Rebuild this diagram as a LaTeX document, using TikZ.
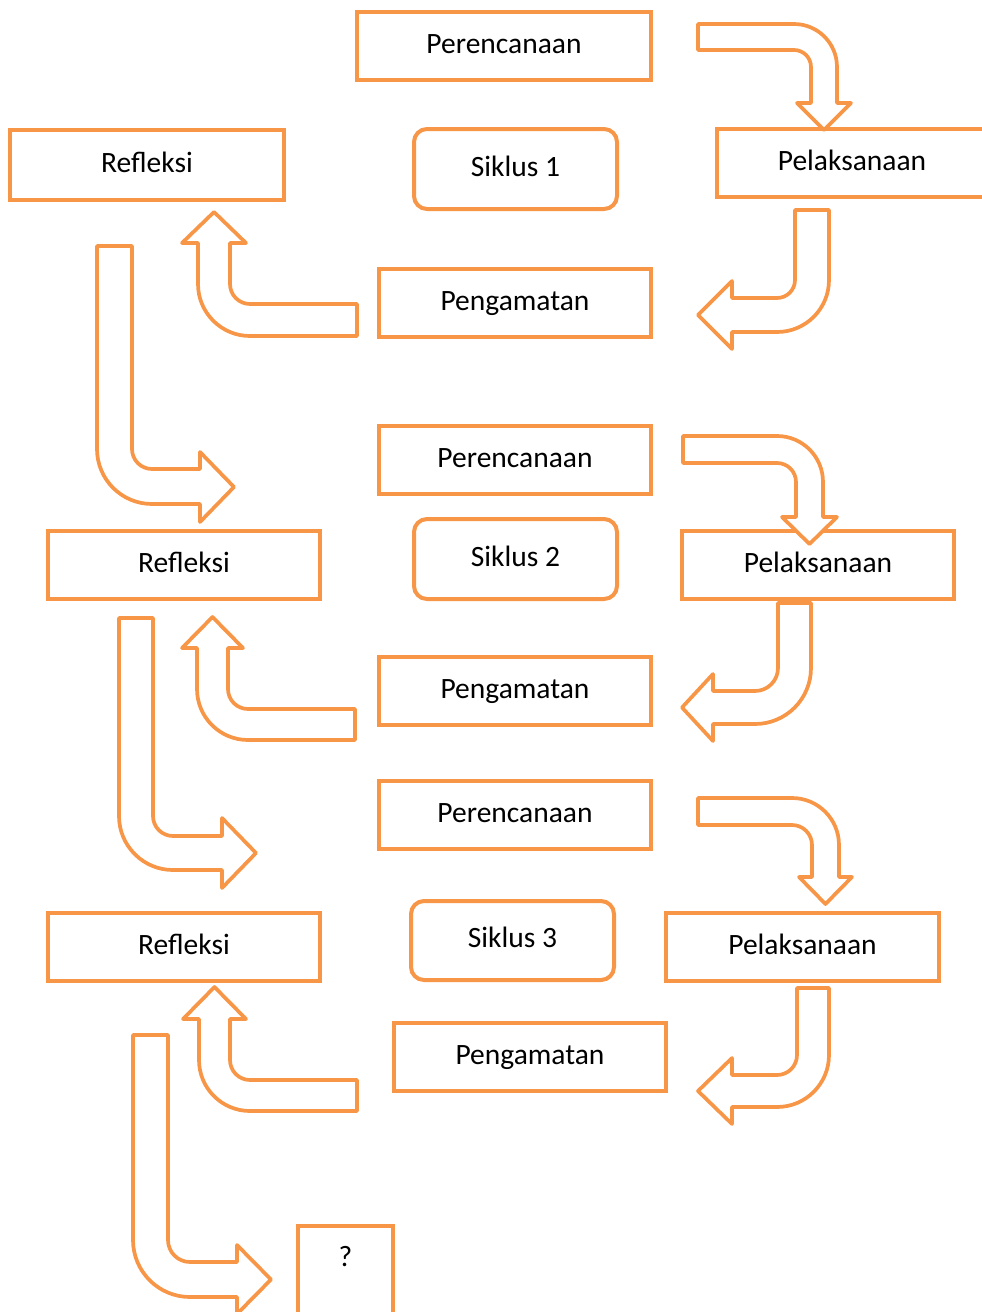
\documentclass[tikz,border=0pt]{standalone}
\usepackage{fontspec}
\setmainfont{Carlito}
\definecolor{oranye}{HTML}{F79646}
\tikzset{
  kotak/.style={draw=oranye, line width=4pt, inner sep=0pt, minimum width=272, minimum height=68,
    text height=20pt, text depth=6pt, font=\fontsize{29.5}{35}\selectfont},
  siklus/.style={kotak, rounded corners=13pt, minimum width=203, minimum height=80},
  panah/.style={draw=oranye, fill=white, line width=3.7pt, line join=round}
}
\begin{document}
\begin{tikzpicture}[x=1pt,y=-1pt]
  \useasboundingbox (0,0) rectangle (982,1312);
  \clip (0,0) rectangle (982,1312);

  \node[kotak, minimum width=294] (rencana1) at (504,46) {Perencanaan};
  \node[kotak, minimum width=274, minimum height=70] (refleksi1) at (147,165) {Refleksi};
  \node[siklus] (siklus1) at (515.5,169) {Siklus 1};
  \node[kotak, minimum width=270] (laksana1) at (852,163) {Pelaksanaan};
  \node[kotak] (amat1) at (515,303) {Pengamatan};

  \node[kotak] (rencana2) at (515,460) {Perencanaan};
  \node[siklus] (siklus2) at (515.5,559) {Siklus 2};
  \node[kotak] (refleksi2) at (184,565) {Refleksi};
  \node[kotak] (laksana2) at (818,565) {Pelaksanaan};
  \node[kotak] (amat2) at (515,691) {Pengamatan};

  \node[kotak] (rencana3) at (515,815) {Perencanaan};
  \node[siklus, minimum height=79] (siklus3) at (512.5,940.5) {Siklus 3};
  \node[kotak] (refleksi3) at (184,947) {Refleksi};
  \node[kotak, minimum width=273] (laksana3) at (802.5,947) {Pelaksanaan};
  \node[kotak] (amat3) at (530,1057) {Pengamatan};

  \node[kotak, minimum width=95, anchor=north, text height=40pt, text depth=60pt] (tanya) at (345.5,1224) {?};

  \draw[panah] (698,24) -- (794,24) arc[start angle=270, end angle=360, radius=43]
    -- (837,103) -- (851,103) -- (824,130) -- (797,103) -- (811,103)
    -- (811,67) arc[start angle=0, end angle=-90, radius=17] -- (698,50) -- cycle;
  \draw[panah] (795,210) -- (829,210) -- (829,280) arc[start angle=0, end angle=90, radius=52]
    -- (732,332) -- (732,349) -- (698,315) -- (732,281) -- (732,298)
    -- (777,298) arc[start angle=90, end angle=0, radius=18] -- cycle;
  \draw[panah] (357,304) -- (250,304) arc[start angle=90, end angle=180, radius=20]
    -- (230,243) -- (246,243) -- (214,212) -- (182,243) -- (198,243)
    -- (198,284) arc[start angle=180, end angle=90, radius=52] -- (357,336) -- cycle;
  \draw[panah] (97,246) -- (132,246) -- (132,449) arc[start angle=180, end angle=90, radius=20]
    -- (200,469) -- (200,452) -- (234,487) -- (200,522) -- (200,504)
    -- (152,504) arc[start angle=90, end angle=180, radius=55] -- cycle;

  \draw[panah] (683,436) -- (777,436) arc[start angle=270, end angle=360, radius=46]
    -- (823,517) -- (837,517) -- (809.5,544) -- (782,517) -- (796,517)
    -- (796,482) arc[start angle=0, end angle=-90, radius=19] -- (683,463) -- cycle;
  \draw[panah] (778,603) -- (811,603) -- (811,668) arc[start angle=0, end angle=90, radius=56]
    -- (713,724) -- (713,741) -- (682,707.5) -- (713,674) -- (713,691)
    -- (755,691) arc[start angle=90, end angle=0, radius=23] -- cycle;
  \draw[panah] (355,709) -- (248,709) arc[start angle=90, end angle=180, radius=20]
    -- (228,648) -- (243,648) -- (212.5,617) -- (182,648) -- (197,648)
    -- (197,689) arc[start angle=180, end angle=90, radius=51] -- (355,740) -- cycle;
  \draw[panah] (119,618) -- (153,618) -- (153,816) arc[start angle=180, end angle=90, radius=20]
    -- (222,836) -- (222,818) -- (256,853) -- (222,888) -- (222,870)
    -- (173,870) arc[start angle=90, end angle=180, radius=54] -- cycle;

  \draw[panah] (698,798) -- (792,798) arc[start angle=270, end angle=360, radius=47]
    -- (839,877) -- (852,877) -- (825.5,904) -- (799,877) -- (812,877)
    -- (812,845) arc[start angle=0, end angle=-90, radius=20] -- (698,825) -- cycle;
  \draw[panah] (797,988) -- (829,988) -- (829,1055) arc[start angle=0, end angle=90, radius=52]
    -- (732,1107) -- (732,1124) -- (698,1091) -- (732,1058) -- (732,1075)
    -- (777,1075) arc[start angle=90, end angle=0, radius=20] -- cycle;
  \draw[panah] (357,1080) -- (250,1080) arc[start angle=90, end angle=180, radius=20]
    -- (230,1019) -- (246,1019) -- (214.5,987) -- (183,1019) -- (199,1019)
    -- (199,1060) arc[start angle=180, end angle=90, radius=51] -- (357,1111) -- cycle;
  \draw[panah] (133,1035) -- (168,1035) -- (168,1240) arc[start angle=180, end angle=90, radius=22]
    -- (237,1262) -- (237,1245) -- (271,1279.5) -- (237,1314) -- (237,1297)
    -- (190,1297) arc[start angle=90, end angle=180, radius=57] -- cycle;
\end{tikzpicture}
\end{document}
